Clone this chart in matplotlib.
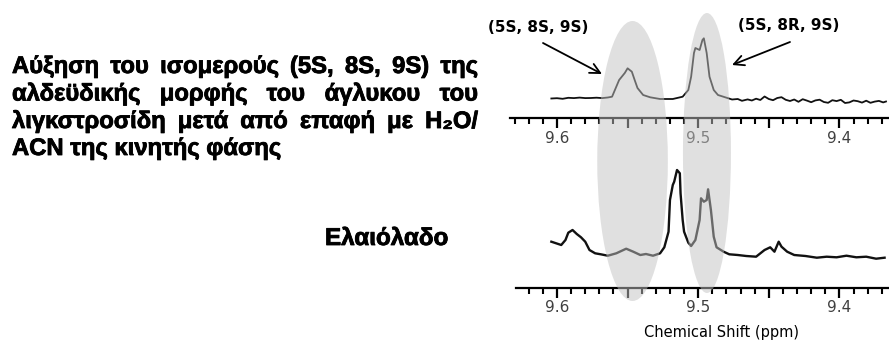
import matplotlib
matplotlib.use('Agg')
import matplotlib.pyplot as plt
import matplotlib.patheffects as pe
from matplotlib.patches import Ellipse
from matplotlib.ticker import FixedLocator, MultipleLocator

W, H = 889, 350

# spectrum after contact with H2O/ACN (top) - intensity in arbitrary units
top_ppm = [9.604, 9.600, 9.596, 9.592, 9.588, 9.584, 9.580, 9.576, 9.572, 9.568,
           9.564, 9.561, 9.556, 9.552, 9.550, 9.547, 9.545, 9.543, 9.539, 9.534,
           9.527, 9.518, 9.511, 9.507, 9.505, 9.503, 9.502, 9.499, 9.497, 9.496,
           9.494, 9.492, 9.489, 9.486, 9.480, 9.476, 9.472, 9.469, 9.465, 9.462,
           9.459, 9.456, 9.453, 9.450, 9.447, 9.444, 9.441, 9.438, 9.435, 9.432,
           9.429, 9.426, 9.423, 9.420, 9.417, 9.414, 9.411, 9.408, 9.405, 9.402,
           9.399, 9.396, 9.393, 9.390, 9.387, 9.384, 9.381, 9.378, 9.375, 9.372,
           9.369, 9.367]
top_int = [19.5, 19.8, 19.2, 20.2, 19.9, 20.4, 19.9, 20.0, 20.3, 19.9,
           20.5, 21.3, 38.0, 45.0, 49.7, 46.3, 38.0, 30.0, 23.0, 20.7,
           19.0, 19.0, 21.3, 28.0, 41.3, 65.0, 70.0, 68.0, 78.0, 79.7,
           65.0, 41.3, 28.0, 23.0, 20.3, 18.5, 19.0, 17.2, 18.6, 17.5,
           19.3, 18.0, 21.5, 19.0, 17.8, 20.0, 20.8, 18.2, 17.0, 18.5,
           16.2, 18.8, 17.4, 15.8, 17.6, 18.3, 16.0, 15.2, 17.8, 16.9,
           18.2, 15.0, 15.6, 17.5, 16.8, 15.4, 17.3, 15.2, 16.4, 17.1,
           15.6, 16.5]

# olive oil spectrum (bottom)
bot_ppm = [9.604, 9.6006, 9.597, 9.594, 9.592, 9.589, 9.586, 9.583, 9.580, 9.577,
           9.573, 9.569, 9.564, 9.558, 9.551, 9.546, 9.541, 9.537, 9.532, 9.527,
           9.524, 9.521, 9.520, 9.518, 9.517, 9.515, 9.513, 9.5125, 9.511, 9.510,
           9.507, 9.505, 9.502, 9.499, 9.498, 9.496, 9.494, 9.493, 9.491, 9.489,
           9.487, 9.482, 9.478, 9.472, 9.466, 9.459, 9.453, 9.449, 9.446, 9.443,
           9.441, 9.437, 9.432, 9.424, 9.416, 9.409, 9.402, 9.395, 9.388, 9.381,
           9.374, 9.368]
bot_int = [46.3, 44.7, 43.0, 48.0, 55.3, 58.0, 54.0, 50.7, 46.3, 38.0,
           34.7, 33.7, 32.3, 34.7, 39.3, 36.3, 33.0, 34.0, 32.3, 34.7,
           40.7, 56.3, 88.0, 103.0, 106.3, 118.0, 114.7, 94.7, 68.0, 56.3,
           45.3, 42.0, 48.0, 68.0, 89.7, 86.3, 88.0, 98.7, 78.0, 51.3,
           40.7, 36.3, 33.7, 33.0, 32.0, 31.3, 38.0, 40.7, 36.3, 46.3,
           41.3, 36.3, 33.0, 32.0, 30.3, 31.3, 30.7, 32.3, 30.7, 31.3,
           29.3, 30.3]

tick_pos = [9.6, 9.55, 9.5, 9.45, 9.4]
tick_lab = ['9.6', '', '9.5', '', '9.4']

isomer_labels = ['(5S, 8S, 9S)', '(5S, 8R, 9S)']
isomer_ppm = [9.5465, 9.4938]
isomer_width = [0.050, 0.034]

title_lines = ['Αύξηση του ισομερούς (5S, 8S, 9S) της',
               'αλδεϋδικής μορφής του άγλυκου του',
               'λιγκστροσίδη μετά από επαφή με H₂O/',
               'ACN της κινητής φάσης']
sample_label = 'Ελαιόλαδο'
xlabel = 'Chemical Shift (ppm)'

heavy = dict(family=['Liberation Sans', 'DejaVu Sans'], fontweight='bold',
             path_effects=[pe.withStroke(linewidth=0.6, foreground='black')])


def ppm_at(x):
    return 9.6 - (x - 557) / 1412.0


fig = plt.figure(figsize=(W / 100, H / 100), dpi=100)
renderer = fig.canvas.get_renderer()


def px_axes(x0, y0, x1, y1):
    return fig.add_axes([x0 / W, 1 - y1 / H, (x1 - x0) / W, (y1 - y0) / H])


def spectrum(ax, x0, ppm, inten, ymax, lw):
    ax.plot(ppm, inten, color='#111111', lw=lw)
    ax.set_xlim(ppm_at(x0), ppm_at(W))
    ax.set_ylim(0, ymax)
    ax.patch.set_visible(False)
    for s in ['top', 'left', 'right']:
        ax.spines[s].set_visible(False)
    ax.spines['bottom'].set_linewidth(1.6)
    ax.set_yticks([])
    ax.xaxis.set_major_locator(FixedLocator(tick_pos))
    ax.set_xticklabels(tick_lab)
    ax.xaxis.set_minor_locator(MultipleLocator(0.01))
    ax.tick_params(axis='x', which='major', direction='out', length=7, width=1.6,
                   labelsize=11, pad=2, labelcolor='#404040')
    ax.tick_params(axis='x', which='minor', direction='out', length=4, width=1.5)


ax_top = px_axes(510, 10, W, 118)
spectrum(ax_top, 510, top_ppm, top_int, 108, 1.3)
ax_bot = px_axes(516, 150, W, 288)
spectrum(ax_bot, 516, bot_ppm, bot_int, 138, 1.7)

fig.text(721 / W, 1 - 332 / H, xlabel, fontsize=10.5, ha='center', va='center')

# overlay with the highlighted regions
ax_o = fig.add_axes([0, 0, 1, 1])
ax_o.set_xlim(ppm_at(0), ppm_at(W))
ax_o.set_ylim(H, 0)
ax_o.axis('off')
ax_o.patch.set_visible(False)
for c, w, yc in zip(isomer_ppm, isomer_width, [161, 153]):
    ax_o.add_patch(Ellipse((c, yc), w, 280, facecolor='#c2c2c2', alpha=0.5,
                           edgecolor='none'))

for lab, (xc, yc) in zip(isomer_labels, [(538, 28), (789, 25)]):
    fig.text(xc / W, 1 - yc / H, lab, fontsize=11, fontweight='bold',
             ha='center', va='center')
for (xa, ya), (xb, yb) in [((543, 43), (602, 74)), ((790, 42), (732, 65))]:
    ax_o.annotate('', xy=(xb, H - yb), xycoords='figure pixels',
                  xytext=(xa, H - ya), textcoords='figure pixels',
                  arrowprops=dict(arrowstyle='->', lw=1.3, color='black',
                                  mutation_scale=18, shrinkA=0, shrinkB=0))

# left text block, justified
baselines = [73, 100.5, 128, 155]
last = fig.text(12 / W, 1 - baselines[3] / H, title_lines[3], fontsize=10,
                va='baseline', **heavy)
size = 10 * 268 / last.get_window_extent(renderer).width
last.set_fontsize(size)
for line, yb in zip(title_lines[:3], baselines[:3]):
    words = line.split(' ')
    texts = [fig.text(0, 1 - yb / H, wd, fontsize=size, va='baseline', **heavy)
             for wd in words]
    widths = [t.get_window_extent(renderer).width for t in texts]
    gap = (478 - 12 - sum(widths)) / (len(words) - 1)
    x = 12
    for t, wd in zip(texts, widths):
        t.set_x(x / W)
        x += wd + gap

s = fig.text(325 / W, 1 - 245 / H, sample_label, fontsize=10, va='baseline', **heavy)
s.set_fontsize(10 * 123 / s.get_window_extent(renderer).width)

fig.savefig('out.png', dpi=100)
